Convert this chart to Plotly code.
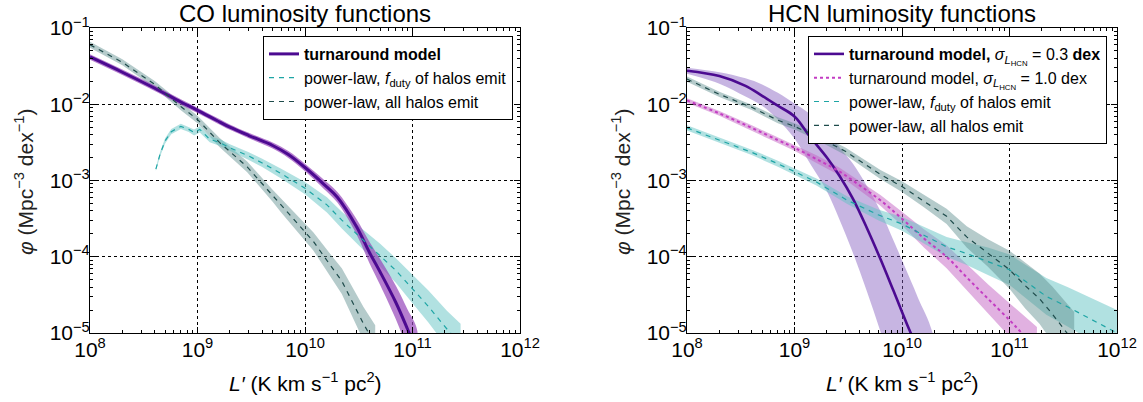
import numpy as np
import plotly.graph_objects as go

# ---------------- CO panel data ----------------
co_turn_L = [1e8, 2e8, 4e8, 7e8, 1e9, 1.5e9, 2e9, 3e9, 5e9, 7e9, 1e10, 1.5e10, 2e10,
             3e10, 4e10, 5e10, 7e10, 9e10, 1.1e11]
co_turn_phi = [4.17e-2, 2.63e-2, 1.62e-2, 1.07e-2, 8.32e-3, 6.17e-3, 5.01e-3, 3.89e-3,
               2.88e-3, 2.19e-3, 1.48e-3, 8.91e-4, 6.03e-4, 2.51e-4, 1.12e-4, 6.31e-5,
               2.51e-5, 1.12e-5, 5.62e-6]
co_turn_band_dex = [0.035, 0.035, 0.035, 0.035, 0.035, 0.035, 0.035, 0.035, 0.04, 0.045,
                    0.05, 0.06, 0.07, 0.10, 0.14, 0.17, 0.22, 0.26, 0.3]

co_fduty_L = [4.1e8, 4.5e8, 5e8, 5.7e8, 7e8, 8.3e8, 9.3e8, 1.05e9, 1.3e9, 1.6e9, 2e9, 3e9,
              4e9, 6e9, 1e10, 1.6e10, 2.2e10, 3.5e10, 5e10, 7e10, 1e11, 1.4e11, 2.1e11, 2.8e11]
co_fduty_phi = [1.41e-3, 2.24e-3, 3.31e-3, 4.37e-3, 5.13e-3, 4.68e-3, 4.27e-3, 4.68e-3,
                3.47e-3, 3.16e-3, 2.69e-3, 2.09e-3, 1.70e-3, 1.23e-3, 7.94e-4, 4.79e-4,
                3.02e-4, 1.66e-4, 1.05e-4, 6.61e-5, 3.80e-5, 2.24e-5, 1.12e-5, 7.08e-6]
co_fduty_band_dex = [0.02, 0.03, 0.035, 0.035, 0.035, 0.035, 0.04, 0.04, 0.04, 0.045, 0.045,
                     0.05, 0.055, 0.065, 0.08, 0.10, 0.11, 0.13, 0.15, 0.16, 0.19, 0.21,
                     0.24, 0.27]

co_all_L = [1e8, 2e8, 4e8, 7e8, 1e9, 1.6e9, 2.9e9, 5e9, 6e9, 1.2e10, 1.8e10, 2.2e10,
            3.5e10, 4.5e10]
co_all_phi = [6.03e-2, 3.55e-2, 1.82e-2, 9.33e-3, 6.31e-3, 3.16e-3, 1.51e-3, 6.31e-4,
              4.68e-4, 1.58e-4, 7.08e-5, 4.79e-5, 1.32e-5, 7.08e-6]
co_all_band_dex = [0.04, 0.04, 0.045, 0.05, 0.05, 0.06, 0.07, 0.08, 0.09, 0.12, 0.15,
                   0.17, 0.22, 0.25]

# ---------------- HCN panel data ----------------
hcn_turn_L = [1e8, 2e8, 3.5e8, 5e8, 7e8, 1e9, 1.4e9, 2e9, 2.6e9, 3.5e9, 4.7e9, 6.3e9,
              8.3e9, 1.17e10, 1.4e10, 2e10]
hcn_turn_phi = [2.75e-2, 2.34e-2, 1.74e-2, 1.29e-2, 9.55e-3, 6.92e-3, 3.72e-3, 2.00e-3,
                1.17e-3, 5.75e-4, 2.40e-4, 9.33e-5, 3.63e-5, 1.10e-5, 6.31e-6, 1.3e-6]
hcn_turn_hi = [3.02e-2, 2.63e-2, 2.19e-2, 1.82e-2, 1.41e-2, 1.02e-2, 7.41e-3, 4.47e-3,
               2.75e-3, 1.66e-3, 8.51e-4, 3.98e-4, 1.66e-4, 5.37e-5, 2.95e-5, 7.94e-6]
hcn_turn_lo = [2.51e-2, 1.86e-2, 1.26e-2, 9.55e-3, 6.31e-3, 3.55e-3, 1.66e-3, 7.24e-4,
               3.16e-4, 1.12e-4, 3.55e-5, 1.05e-5, 3.2e-6, 1e-6, 5e-7, 1e-7]

hcn_dot_L = [1e8, 2e8, 4e8, 7e8, 1e9, 1.6e9, 2.6e9, 4e9, 6.3e9, 1e10, 1.6e10, 2.6e10,
             4e10, 6.3e10, 1e11, 1.3e11, 1.8e11]
hcn_dot_phi = [1.12e-2, 7.59e-3, 4.90e-3, 3.39e-3, 2.69e-3, 1.91e-3, 1.32e-3, 8.71e-4,
               5.50e-4, 3.16e-4, 1.74e-4, 1.0e-4, 5.37e-5, 2.82e-5, 1.48e-5, 1.0e-5, 6.31e-6]
hcn_dot_band_dex = [0.03, 0.03, 0.035, 0.04, 0.04, 0.05, 0.05, 0.06, 0.07, 0.09, 0.12,
                    0.15, 0.17, 0.19, 0.22, 0.25, 0.28]

hcn_fduty_L = [1e8, 2e8, 4e8, 7e8, 1e9, 1.6e9, 3.1e9, 6e9, 1e10, 1.6e10, 2.6e10, 4e10,
               6.3e10, 1e11, 1.5e11, 2.2e11, 3.5e11, 6e11, 1e12]
hcn_fduty_phi = [4.90e-3, 3.39e-3, 2.34e-3, 1.66e-3, 1.32e-3, 9.55e-4, 5.50e-4, 3.55e-4,
                 2.69e-4, 1.91e-4, 1.35e-4, 1.10e-4, 8.71e-5, 6.76e-5, 4.47e-5, 3.02e-5,
                 2.19e-5, 1.48e-5, 1.0e-5]
hcn_fduty_band_dex = [0.035, 0.035, 0.035, 0.04, 0.04, 0.045, 0.05, 0.07, 0.09, 0.11,
                      0.13, 0.15, 0.18, 0.2, 0.22, 0.24, 0.26, 0.28, 0.3]

hcn_all_L = [1e8, 2e8, 4e8, 7e8, 1e9, 1.6e9, 3e9, 6.3e9, 1e10, 1.6e10, 2.6e10, 4e10,
             6.3e10, 1e11, 1.4e11, 1.9e11, 2.5e11, 3.2e11, 4e11]
hcn_all_phi = [2.14e-2, 1.35e-2, 9.12e-3, 6.17e-3, 5.13e-3, 3.80e-3, 2.40e-3, 1.20e-3,
               8.32e-4, 5.37e-4, 3.39e-4, 1.82e-4, 1.12e-4, 6.76e-5, 4.17e-5, 2.82e-5,
               1.78e-5, 1.12e-5, 7.5e-6]
hcn_all_band_dex = [0.035, 0.035, 0.035, 0.04, 0.04, 0.045, 0.05, 0.06, 0.07, 0.08, 0.1,
                    0.14, 0.18, 0.25, 0.3, 0.33, 0.36, 0.38, 0.4]

x_tick_vals = [1e8, 1e9, 1e10, 1e11, 1e12]
x_tick_text = ["10<sup>8</sup>", "10<sup>9</sup>", "10<sup>10</sup>", "10<sup>11</sup>",
               "10<sup>12</sup>"]
y_tick_vals = [1e-5, 1e-4, 1e-3, 1e-2, 1e-1]
y_tick_text = ["10<sup>−5</sup>", "10<sup>−4</sup>", "10<sup>−3</sup>", "10<sup>−2</sup>",
               "10<sup>−1</sup>"]
x_minor_vals = [m * 10.0 ** e for e in range(8, 12) for m in range(2, 10)]
y_minor_vals = [m * 10.0 ** e for e in range(-5, -1) for m in range(2, 10)]

# ---------------- styles ----------------
INDIGO = "rgb(76,10,145)"
CO_TURN_BAND = "rgba(150,70,185,0.7)"
HCN_TURN_BAND = "rgba(130,90,190,0.45)"
MAGENTA = "rgb(195,60,195)"
MAGENTA_BAND = "rgba(195,100,195,0.5)"
CYAN = "rgb(30,165,165)"
CYAN_BAND = "rgba(100,195,195,0.5)"
TEAL = "rgb(30,75,75)"
TEAL_BAND = "rgba(90,140,140,0.45)"
FONT = "Liberation Sans, Arial, Helvetica, sans-serif"

fig = go.Figure()


def band(L, lo, hi, color, xa, ya, shape="linear"):
    fig.add_trace(go.Scatter(
        x=list(L) + list(L)[::-1], y=list(hi) + list(lo)[::-1],
        fill="toself", fillcolor=color, mode="lines", line=dict(width=0, shape=shape),
        hoverinfo="skip", showlegend=False, xaxis=xa, yaxis=ya))


def sym_band(L, phi, dex, color, xa, ya, shape="linear"):
    p = np.array(phi)
    w = np.array(dex)
    band(L, p * 10 ** (-w), p * 10 ** w, color, xa, ya, shape)


def line(L, phi, name, color, width, dash, xa, ya, legend, shape="linear"):
    fig.add_trace(go.Scatter(
        x=L, y=phi, mode="lines", name=name,
        line=dict(color=color, width=width, dash=dash, shape=shape),
        xaxis=xa, yaxis=ya, legend=legend))


# CO panel
sym_band(co_all_L, co_all_phi, co_all_band_dex, TEAL_BAND, "x", "y")
sym_band(co_fduty_L, co_fduty_phi, co_fduty_band_dex, CYAN_BAND, "x", "y")
sym_band(co_turn_L, co_turn_phi, co_turn_band_dex, CO_TURN_BAND, "x", "y", "spline")
line(co_turn_L, co_turn_phi, "<b>turnaround model</b>", INDIGO, 3, "solid", "x", "y",
     "legend", "spline")
line(co_fduty_L, co_fduty_phi, "power-law, <i>f</i><sub>duty</sub> of halos emit", CYAN, 1.2,
     "5px,5px", "x", "y", "legend")
line(co_all_L, co_all_phi, "power-law, all halos emit", TEAL, 1.2, "5px,5px", "x", "y", "legend")

# HCN panel
band(hcn_turn_L, hcn_turn_lo, hcn_turn_hi, HCN_TURN_BAND, "x2", "y2", "spline")
sym_band(hcn_dot_L, hcn_dot_phi, hcn_dot_band_dex, MAGENTA_BAND, "x2", "y2")
sym_band(hcn_fduty_L, hcn_fduty_phi, hcn_fduty_band_dex, CYAN_BAND, "x2", "y2")
sym_band(hcn_all_L, hcn_all_phi, hcn_all_band_dex, TEAL_BAND, "x2", "y2")
sig = "<i>σ</i><sub><i>L</i><sub>HCN</sub></sub>"
line(hcn_turn_L, hcn_turn_phi, "<b>turnaround model, </b>" + sig + " = 0.3 <b>dex</b>",
     INDIGO, 2.6, "solid", "x2", "y2", "legend2", "spline")
line(hcn_dot_L, hcn_dot_phi, "turnaround model, " + sig + " = 1.0 dex", MAGENTA, 2, "dot",
     "x2", "y2", "legend2", "spline")
line(hcn_fduty_L, hcn_fduty_phi, "power-law, <i>f</i><sub>duty</sub> of halos emit", CYAN, 1.2,
     "5px,5px", "x2", "y2", "legend2")
line(hcn_all_L, hcn_all_phi, "power-law, all halos emit", TEAL, 1.2, "5px,5px", "x2", "y2",
     "legend2")

W, H = 1143, 402
ydom = [1 - 333 / H, 1 - 28 / H]
axis_common = dict(
    type="log", showline=True, linecolor="black", linewidth=1, mirror="allticks",
    ticks="inside", ticklen=6, tickcolor="black", tickwidth=1, automargin=False,
    showgrid=True, gridcolor="black", griddash="dot", gridwidth=1, zeroline=False,
    tickfont=dict(family=FONT, size=21, color="black"),
)
xt = dict(tickmode="array", tickvals=x_tick_vals, ticktext=x_tick_text, range=[8, 12],
          ticklabelstandoff=-2,
          minor=dict(tickmode="array", tickvals=x_minor_vals, ticks="inside", ticklen=3,
                     tickcolor="black", showgrid=False))
yt = dict(tickmode="array", tickvals=y_tick_vals, ticktext=y_tick_text, range=[-5, -1],
          ticklabelstandoff=-5,
          minor=dict(tickmode="array", tickvals=y_minor_vals, ticks="inside", ticklen=3,
                     tickcolor="black", showgrid=False))

x_title = "<i>L′</i> (K km s<sup>−1</sup> pc<sup>2</sup>)"
y_title = "<i>φ</i> (Mpc<sup>−3</sup> dex<sup>−1</sup>)"


def ann(text, xpx, ypx, size, angle=0, color="black"):
    return dict(text=text, x=xpx / W, y=1 - ypx / H, xref="paper", yref="paper",
                xanchor="center", yanchor="middle", showarrow=False, textangle=angle,
                font=dict(family=FONT, size=size, color=color))


fig.update_layout(
    width=W, height=H, margin=dict(l=0, r=0, t=0, b=0),
    paper_bgcolor="white", plot_bgcolor="white",
    font=dict(family=FONT, color="black"),
    xaxis=dict(domain=[90 / W, 520 / W], anchor="y", **axis_common, **xt),
    yaxis=dict(domain=ydom, anchor="x", **axis_common, **yt),
    xaxis2=dict(domain=[687 / W, 1117 / W], anchor="y2", **axis_common, **xt),
    yaxis2=dict(domain=ydom, anchor="x2", **axis_common, **yt),
    legend=dict(x=263 / W, y=1 - 36 / H, xanchor="left", yanchor="top",
                bgcolor="white", bordercolor="black", borderwidth=1,
                font=dict(family=FONT, size=16, color="black")),
    legend2=dict(x=808 / W, y=1 - 36 / H, xanchor="left", yanchor="top",
                 bgcolor="white", bordercolor="black", borderwidth=1,
                 font=dict(family=FONT, size=16, color="black")),
    annotations=[
        ann("CO luminosity functions", 305, 14, 24),
        ann("HCN luminosity functions", 902, 14, 24),
        ann(x_title, 305, 382, 21),
        ann(x_title, 902, 382, 21),
        ann(y_title, 24, 182, 21, -90, "#222"),
        ann(y_title, 621, 182, 21, -90, "#222"),
    ],
)

fig.write_html("out.html")
